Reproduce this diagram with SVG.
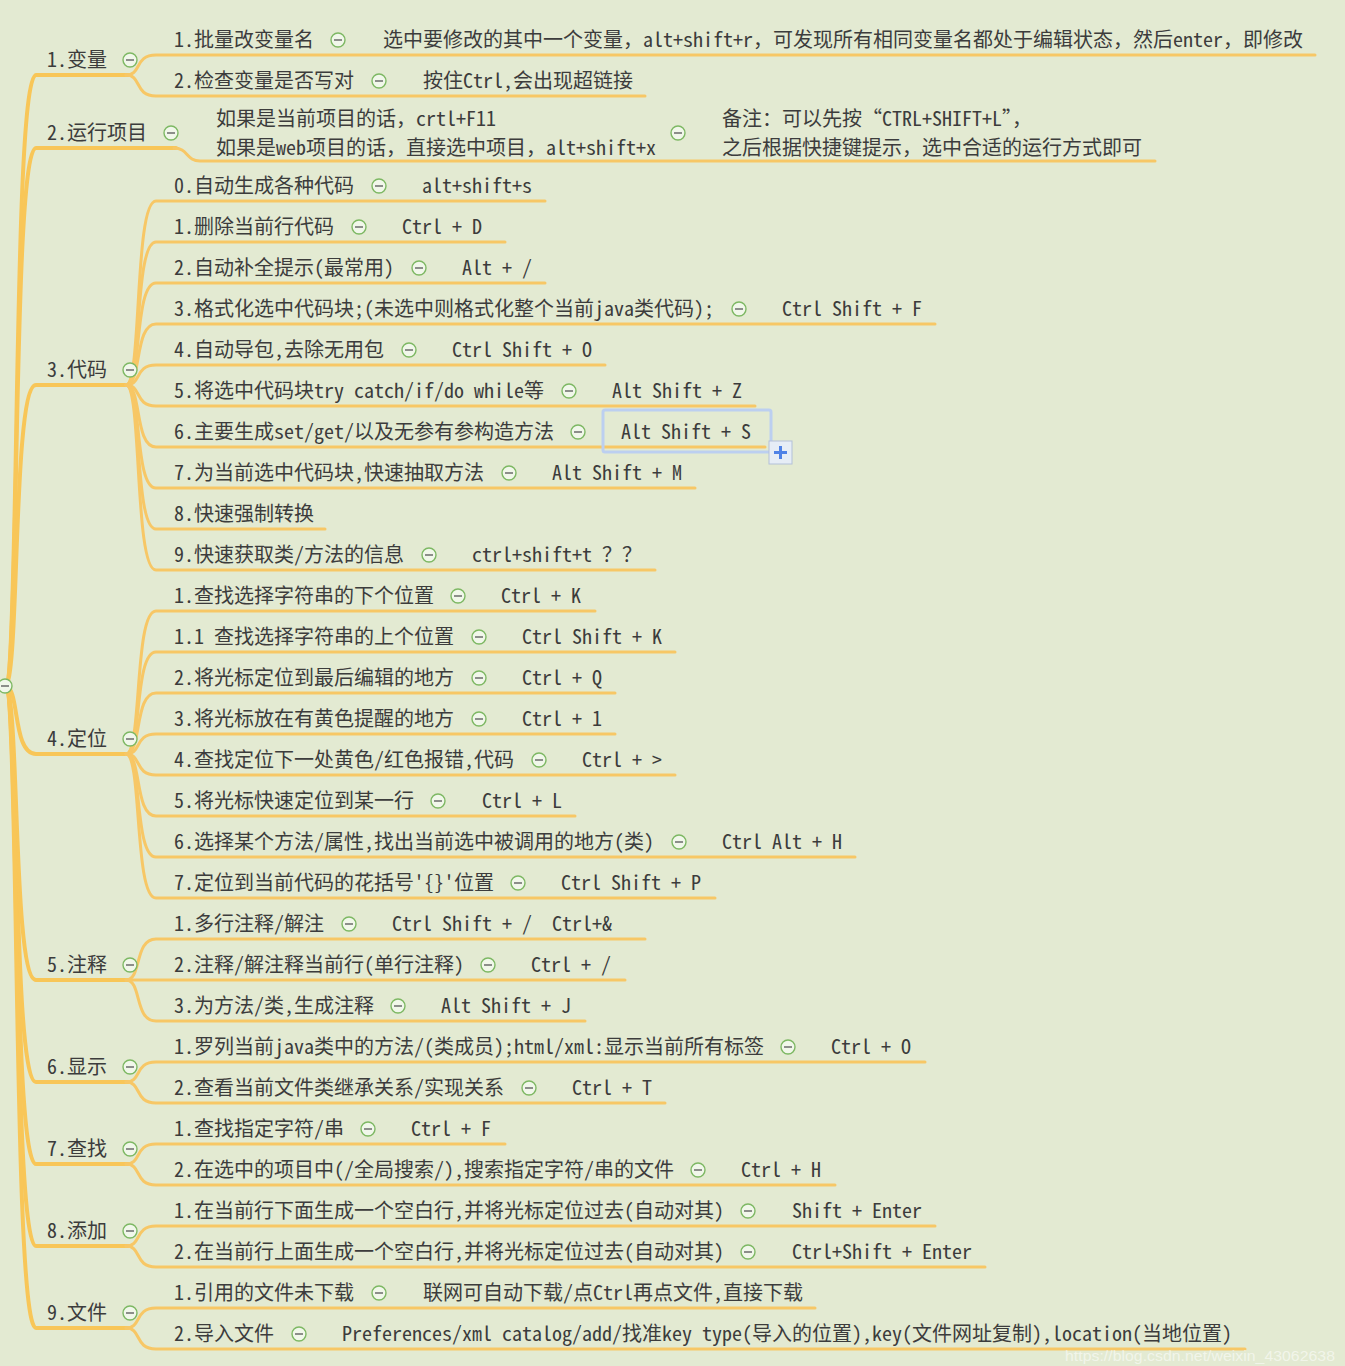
<svg xmlns="http://www.w3.org/2000/svg" xmlns:xlink="http://www.w3.org/1999/xlink" width="1345" height="1366" viewBox="0 0 1345 1366">
<style>
.t{font-family:'Noto Sans Mono CJK SC','Noto Sans CJK SC',monospace;font-size:20px;fill:#3c3c3c}
.b{fill:none;stroke:#f7c766;stroke-width:3;stroke-linecap:round}
.tr{fill:none;stroke:#f8c658;stroke-width:4;stroke-linecap:round}
.wm{font-family:'Liberation Sans',Arial,sans-serif;font-size:14px;fill:#ffffff;fill-opacity:0.55}
</style>
<defs>
<g id="c"><circle r="7" fill="#f1f7ea" stroke="#7db863" stroke-width="1.4"/><line x1="-4" y1="0" x2="4" y2="0" stroke="#555" stroke-width="1.3"/></g>
</defs>
<rect width="1345" height="1366" fill="#e3ead2"/>
<g id="connectors">
<path class="tr" d="M5 686 C20 686 12 75 36 75 L128 75"/>
<path class="tr" d="M5 686 C20 686 12 148 36 148 L176 148"/>
<path class="tr" d="M5 686 C20 686 12 385 36 385 L128 385"/>
<path class="tr" d="M5 686 C20 686 12 754 36 754 L128 754"/>
<path class="tr" d="M5 686 C20 686 12 980 36 980 L128 980"/>
<path class="tr" d="M5 686 C20 686 12 1082 36 1082 L128 1082"/>
<path class="tr" d="M5 686 C20 686 12 1164 36 1164 L128 1164"/>
<path class="tr" d="M5 686 C20 686 12 1246 36 1246 L128 1246"/>
<path class="tr" d="M5 686 C20 686 12 1328 36 1328 L128 1328"/>
<path class="b" d="M126 75 C142 75 134 55 156 55 L1315 55"/>
<path class="b" d="M126 75 C142 75 134 96 156 96 L645 96"/>
<path class="b" d="M174 148 C188 148 186 161 200 161 L1155 161"/>
<path class="b" d="M126 385 C142 385 134 201 156 201 L545 201"/>
<path class="b" d="M126 385 C142 385 134 242 156 242 L505 242"/>
<path class="b" d="M126 385 C142 385 134 283 156 283 L545 283"/>
<path class="b" d="M126 385 C142 385 134 324 156 324 L935 324"/>
<path class="b" d="M126 385 C142 385 134 365 156 365 L605 365"/>
<path class="b" d="M126 385 C142 385 134 406 156 406 L755 406"/>
<path class="b" d="M126 385 C142 385 134 447 156 447 L765 447"/>
<path class="b" d="M126 385 C142 385 134 488 156 488 L695 488"/>
<path class="b" d="M126 385 C142 385 134 529 156 529 L325 529"/>
<path class="b" d="M126 385 C142 385 134 570 156 570 L655 570"/>
<path class="b" d="M126 754 C142 754 134 611 156 611 L595 611"/>
<path class="b" d="M126 754 C142 754 134 652 156 652 L675 652"/>
<path class="b" d="M126 754 C142 754 134 693 156 693 L615 693"/>
<path class="b" d="M126 754 C142 754 134 734 156 734 L615 734"/>
<path class="b" d="M126 754 C142 754 134 775 156 775 L675 775"/>
<path class="b" d="M126 754 C142 754 134 816 156 816 L575 816"/>
<path class="b" d="M126 754 C142 754 134 857 156 857 L855 857"/>
<path class="b" d="M126 754 C142 754 134 898 156 898 L715 898"/>
<path class="b" d="M126 980 C142 980 134 939 156 939 L645 939"/>
<path class="b" d="M126 980 L625 980"/>
<path class="b" d="M126 980 C142 980 134 1021 156 1021 L585 1021"/>
<path class="b" d="M126 1082 C142 1082 134 1062 156 1062 L925 1062"/>
<path class="b" d="M126 1082 C142 1082 134 1103 156 1103 L665 1103"/>
<path class="b" d="M126 1164 C142 1164 134 1144 156 1144 L505 1144"/>
<path class="b" d="M126 1164 C142 1164 134 1185 156 1185 L835 1185"/>
<path class="b" d="M126 1246 C142 1246 134 1226 156 1226 L935 1226"/>
<path class="b" d="M126 1246 C142 1246 134 1267 156 1267 L985 1267"/>
<path class="b" d="M126 1328 C142 1328 134 1308 156 1308 L815 1308"/>
<path class="b" d="M126 1328 C142 1328 134 1349 156 1349 L1245 1349"/>
</g>
<g id="root"><use xlink:href="#c" x="5" y="686"/></g>
<g id="n1"><text class="t" x="47" y="67">1.变量</text><use xlink:href="#c" x="130" y="60"/></g>
<g id="n1-1"><text class="t" x="174" y="47">1.批量改变量名</text><use xlink:href="#c" x="338" y="40"/><text class="t" x="383" y="47">选中要修改的其中一个变量，alt+shift+r，可发现所有相同变量名都处于编辑状态，然后enter，即修改</text></g>
<g id="n1-2"><text class="t" x="174" y="88">2.检查变量是否写对</text><use xlink:href="#c" x="379" y="81"/><text class="t" x="423" y="88">按住Ctrl,会出现超链接</text></g>
<g id="n2"><text class="t" x="47" y="140">2.运行项目</text><use xlink:href="#c" x="171" y="133"/></g>
<g id="n2-1"><text class="t" x="216" y="126">如果是当前项目的话，crtl+F11</text><text class="t" x="216" y="155">如果是web项目的话，直接选中项目，alt+shift+x</text><use xlink:href="#c" x="678" y="133"/><text class="t" x="722" y="126">备注：可以先按“CTRL+SHIFT+L”，</text><text class="t" x="722" y="155">之后根据快捷键提示，选中合适的运行方式即可</text></g>
<g id="n3"><text class="t" x="47" y="377">3.代码</text><use xlink:href="#c" x="130" y="370"/></g>
<g id="n3-0"><text class="t" x="174" y="193">0.自动生成各种代码</text><use xlink:href="#c" x="379" y="186"/><text class="t" x="422" y="193">alt+shift+s</text></g>
<g id="n3-1"><text class="t" x="174" y="234">1.删除当前行代码</text><use xlink:href="#c" x="359" y="227"/><text class="t" x="402" y="234">Ctrl + D</text></g>
<g id="n3-2"><text class="t" x="174" y="275">2.自动补全提示(最常用)</text><use xlink:href="#c" x="419" y="268"/><text class="t" x="462" y="275">Alt + /</text></g>
<g id="n3-3"><text class="t" x="174" y="316">3.格式化选中代码块;(未选中则格式化整个当前java类代码);</text><use xlink:href="#c" x="739" y="309"/><text class="t" x="782" y="316">Ctrl Shift + F</text></g>
<g id="n3-4"><text class="t" x="174" y="357">4.自动导包,去除无用包</text><use xlink:href="#c" x="409" y="350"/><text class="t" x="452" y="357">Ctrl Shift + O</text></g>
<g id="n3-5"><text class="t" x="174" y="398">5.将选中代码块try catch/if/do while等</text><use xlink:href="#c" x="569" y="391"/><text class="t" x="612" y="398">Alt Shift + Z</text></g>
<g id="n3-6"><text class="t" x="174" y="439">6.主要生成set/get/以及无参有参构造方法</text><use xlink:href="#c" x="578" y="432"/><rect x="603" y="410" width="168" height="42" rx="2" fill="none" stroke="#bccff0" stroke-width="3"/><text class="t" x="621" y="439">Alt Shift + S</text><rect x="769" y="441" width="23" height="23" fill="#e6edf6" stroke="#b3c0d8" stroke-width="1"/><path d="M780.5 446 V459 M774 452.5 H787" stroke="#4f82e6" stroke-width="3"/></g>
<g id="n3-7"><text class="t" x="174" y="480">7.为当前选中代码块,快速抽取方法</text><use xlink:href="#c" x="509" y="473"/><text class="t" x="552" y="480">Alt Shift + M</text></g>
<g id="n3-8"><text class="t" x="174" y="521">8.快速强制转换</text></g>
<g id="n3-9"><text class="t" x="174" y="562">9.快速获取类/方法的信息</text><use xlink:href="#c" x="429" y="555"/><text class="t" x="472" y="562">ctrl+shift+t ？？</text></g>
<g id="n4"><text class="t" x="47" y="746">4.定位</text><use xlink:href="#c" x="130" y="739"/></g>
<g id="n4-1"><text class="t" x="174" y="603">1.查找选择字符串的下个位置</text><use xlink:href="#c" x="458" y="596"/><text class="t" x="501" y="603">Ctrl + K</text></g>
<g id="n4-2"><text class="t" x="174" y="644">1.1 查找选择字符串的上个位置</text><use xlink:href="#c" x="479" y="637"/><text class="t" x="522" y="644">Ctrl Shift + K</text></g>
<g id="n4-3"><text class="t" x="174" y="685">2.将光标定位到最后编辑的地方</text><use xlink:href="#c" x="479" y="678"/><text class="t" x="522" y="685">Ctrl + Q</text></g>
<g id="n4-4"><text class="t" x="174" y="726">3.将光标放在有黄色提醒的地方</text><use xlink:href="#c" x="479" y="719"/><text class="t" x="522" y="726">Ctrl + 1</text></g>
<g id="n4-5"><text class="t" x="174" y="767">4.查找定位下一处黄色/红色报错,代码</text><use xlink:href="#c" x="539" y="760"/><text class="t" x="582" y="767">Ctrl + &gt;</text></g>
<g id="n4-6"><text class="t" x="174" y="808">5.将光标快速定位到某一行</text><use xlink:href="#c" x="438" y="801"/><text class="t" x="482" y="808">Ctrl + L</text></g>
<g id="n4-7"><text class="t" x="174" y="849">6.选择某个方法/属性,找出当前选中被调用的地方(类)</text><use xlink:href="#c" x="679" y="842"/><text class="t" x="722" y="849">Ctrl Alt + H</text></g>
<g id="n4-8"><text class="t" x="174" y="890">7.定位到当前代码的花括号'{}'位置</text><use xlink:href="#c" x="518" y="883"/><text class="t" x="561" y="890">Ctrl Shift + P</text></g>
<g id="n5"><text class="t" x="47" y="972">5.注释</text><use xlink:href="#c" x="130" y="965"/></g>
<g id="n5-1"><text class="t" x="174" y="931">1.多行注释/解注</text><use xlink:href="#c" x="349" y="924"/><text class="t" x="392" y="931" xml:space="preserve">Ctrl Shift + /  Ctrl+&amp;</text></g>
<g id="n5-2"><text class="t" x="174" y="972">2.注释/解注释当前行(单行注释)</text><use xlink:href="#c" x="488" y="965"/><text class="t" x="531" y="972">Ctrl + /</text></g>
<g id="n5-3"><text class="t" x="174" y="1013">3.为方法/类,生成注释</text><use xlink:href="#c" x="398" y="1006"/><text class="t" x="441" y="1013">Alt Shift + J</text></g>
<g id="n6"><text class="t" x="47" y="1074">6.显示</text><use xlink:href="#c" x="130" y="1067"/></g>
<g id="n6-1"><text class="t" x="174" y="1054">1.罗列当前java类中的方法/(类成员);html/xml:显示当前所有标签</text><use xlink:href="#c" x="788" y="1047"/><text class="t" x="831" y="1054">Ctrl + O</text></g>
<g id="n6-2"><text class="t" x="174" y="1095">2.查看当前文件类继承关系/实现关系</text><use xlink:href="#c" x="529" y="1088"/><text class="t" x="572" y="1095">Ctrl + T</text></g>
<g id="n7"><text class="t" x="47" y="1156">7.查找</text><use xlink:href="#c" x="130" y="1149"/></g>
<g id="n7-1"><text class="t" x="174" y="1136">1.查找指定字符/串</text><use xlink:href="#c" x="368" y="1129"/><text class="t" x="411" y="1136">Ctrl + F</text></g>
<g id="n7-2"><text class="t" x="174" y="1177">2.在选中的项目中(/全局搜索/),搜索指定字符/串的文件</text><use xlink:href="#c" x="698" y="1170"/><text class="t" x="741" y="1177">Ctrl + H</text></g>
<g id="n8"><text class="t" x="47" y="1238">8.添加</text><use xlink:href="#c" x="130" y="1231"/></g>
<g id="n8-1"><text class="t" x="174" y="1218">1.在当前行下面生成一个空白行,并将光标定位过去(自动对其)</text><use xlink:href="#c" x="748" y="1211"/><text class="t" x="792" y="1218">Shift + Enter</text></g>
<g id="n8-2"><text class="t" x="174" y="1259">2.在当前行上面生成一个空白行,并将光标定位过去(自动对其)</text><use xlink:href="#c" x="748" y="1252"/><text class="t" x="792" y="1259">Ctrl+Shift + Enter</text></g>
<g id="n9"><text class="t" x="47" y="1320">9.文件</text><use xlink:href="#c" x="130" y="1313"/></g>
<g id="n9-1"><text class="t" x="174" y="1300">1.引用的文件未下载</text><use xlink:href="#c" x="379" y="1293"/><text class="t" x="423" y="1300">联网可自动下载/点Ctrl再点文件,直接下载</text></g>
<g id="n9-2"><text class="t" x="174" y="1341">2.导入文件</text><use xlink:href="#c" x="299" y="1334"/><text class="t" x="342" y="1341">Preferences/xml catalog/add/找准key type(导入的位置),key(文件网址复制),location(当地位置)</text></g>
<text class="wm" x="1065" y="1361" textLength="270" lengthAdjust="spacingAndGlyphs">https://blog.csdn.net/weixin_43062638</text>
</svg>
